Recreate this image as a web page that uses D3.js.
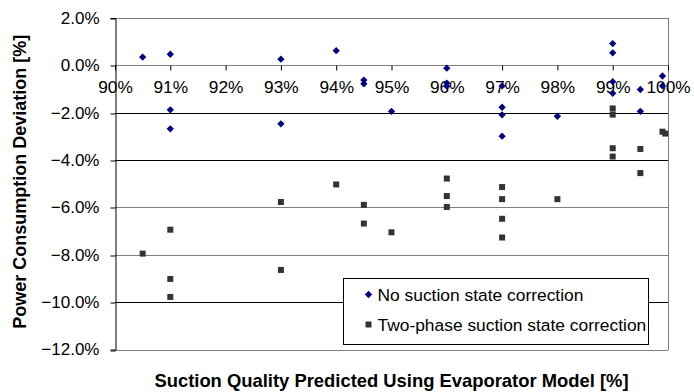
<!DOCTYPE html>
<html>
<head>
<meta charset="utf-8">
<script src="https://cdn.jsdelivr.net/npm/d3@7"></script>
<style>
  body { margin: 0; background: #fff; }
  svg { display: block; font-family: "Liberation Sans", Arial, sans-serif; }
</style>
</head>
<body>
<svg id="chart"></svg>
<script>
// Series: [suction quality %, deviation %]
const noCorrection = [
  [90.5, 0.35], [91, 0.47], [91, -1.88], [91, -2.68],
  [93, 0.26], [93, -2.47], [94, 0.62], [94.5, -0.62], [94.5, -0.78],
  [95, -1.94], [96, -0.12], [96, -0.75], [96, -0.88],
  [97, -0.87], [97, -1.77], [97, -2.09], [97, -2.99], [98, -2.15],
  [99, 0.92], [99, 0.53], [99, -0.69], [99, -1.18],
  [99.5, -1.02], [99.5, -1.94], [99.9, -0.45], [99.9, -0.87]
];
const twoPhaseCorrection = [
  [90.5, -7.95], [91, -6.94], [91, -9.02], [91, -9.78],
  [93, -5.77], [93, -8.64], [94, -5.03], [94.5, -5.89], [94.5, -6.68],
  [95, -7.05], [96, -4.78], [96, -5.52], [96, -5.98],
  [97, -5.14], [97, -5.65], [97, -6.48], [97, -7.27], [98, -5.65],
  [99, -1.82], [99, -2.08], [99, -3.50], [99, -3.85],
  [99.5, -3.53], [99.5, -4.55], [99.9, -2.80], [99.95, -2.88]
];
const xTicks = [90, 91, 92, 93, 94, 95, 96, 97, 98, 99, 100];
const yTicks = [2, 0, -2, -4, -6, -8, -10, -12];
const legendLabels = ["No suction state correction", "Two-phase suction state correction"];

const W = 694, H = 392;
const margin = { top: 18, right: 26, bottom: 42.5, left: 115 };
const svg = d3.select("#chart").attr("width", W).attr("height", H);

const x = d3.scaleLinear().domain([90, 100]).range([margin.left, W - margin.right]);
const y = d3.scaleLinear().domain([-12, 2]).range([H - margin.bottom, margin.top]);

// gridlines (some render lighter in the original)
const lightLines = new Set([2, 0, -6, -8, -12]);
svg.append("g")
  .selectAll("line")
  .data(yTicks)
  .join("line")
  .attr("x1", x(90)).attr("x2", x(100))
  .attr("y1", d => Math.round(y(d)) + 0.5)
  .attr("y2", d => Math.round(y(d)) + 0.5)
  .attr("stroke", d => lightLines.has(d) ? "#808080" : "#000")
  .attr("stroke-width", 1);

// right border of plot area
svg.append("line")
  .attr("x1", Math.round(x(100)) + 0.5).attr("x2", Math.round(x(100)) + 0.5)
  .attr("y1", y(2)).attr("y2", y(-12) + 0.5)
  .attr("stroke", "#808080");

// left y axis
const yAxis = svg.append("g")
  .attr("transform", `translate(${Math.round(x(90)) + 0.5},0)`)
  .call(d3.axisLeft(y).tickValues(yTicks).tickSize(5).tickPadding(11)
    .tickFormat(d => d3.format(".1f")(d) + "%"));
yAxis.select(".domain").attr("stroke", "#000");
yAxis.selectAll(".tick line").attr("stroke", "#000")
  .attr("transform", d => `translate(0,${Math.round(y(d)) + 0.5 - y(d)})`);
yAxis.selectAll("text").attr("font-size", 17).attr("fill", "#000")
  .attr("font-family", "Liberation Sans, Arial, sans-serif");

// x axis sitting at 0%
const xAxis = svg.append("g")
  .attr("transform", `translate(0,${Math.round(y(0)) + 0.5})`)
  .call(d3.axisBottom(x).tickValues(xTicks).tickSize(5).tickPadding(10)
    .tickFormat(d => d + "%"));
xAxis.select(".domain").remove();
xAxis.selectAll(".tick line").attr("stroke", "#000");
xAxis.selectAll("text").attr("font-size", 17.3).attr("fill", "#000")
  .attr("font-family", "Liberation Sans, Arial, sans-serif");

const diamond = d3.symbol().type(d3.symbolDiamond2).size(34);
const square = d3.symbol().type(d3.symbolSquare).size(36);

svg.append("g")
  .selectAll("path")
  .data(twoPhaseCorrection)
  .join("path")
  .attr("d", square)
  .attr("transform", d => `translate(${x(d[0])},${y(d[1])})`)
  .attr("fill", "#333333");

svg.append("g")
  .selectAll("path")
  .data(noCorrection)
  .join("path")
  .attr("d", diamond)
  .attr("transform", d => `translate(${x(d[0])},${y(d[1])})`)
  .attr("fill", "#000080");

// legend
const lg = svg.append("g").attr("transform", "translate(343.5,278.5)");
lg.append("rect").attr("width", 305).attr("height", 66)
  .attr("fill", "#fff").attr("stroke", "#000");
const items = lg.selectAll("g.item")
  .data(legendLabels)
  .join("g")
  .attr("transform", (d, i) => `translate(25,${16 + i * 30})`);
items.append("path")
  .attr("d", (d, i) => i === 0 ? diamond() : square())
  .attr("fill", (d, i) => i === 0 ? "#000080" : "#333333");
items.append("text")
  .attr("x", 9).attr("dy", "0.35em")
  .attr("font-size", 17.4)
  .text(d => d);

// axis titles
svg.append("text")
  .attr("x", (x(90) + x(100)) / 2).attr("y", 387)
  .attr("text-anchor", "middle")
  .attr("font-size", 18.4).attr("font-weight", "bold")
  .text("Suction Quality Predicted Using Evaporator Model [%]");

svg.append("text")
  .attr("transform", `translate(20,${(y(2) + y(-12)) / 2 - 2}) rotate(-90)`)
  .attr("text-anchor", "middle").attr("dy", "0.35em")
  .attr("font-size", 18).attr("font-weight", "bold")
  .text("Power Consumption Deviation [%]");
</script>
</body>
</html>
